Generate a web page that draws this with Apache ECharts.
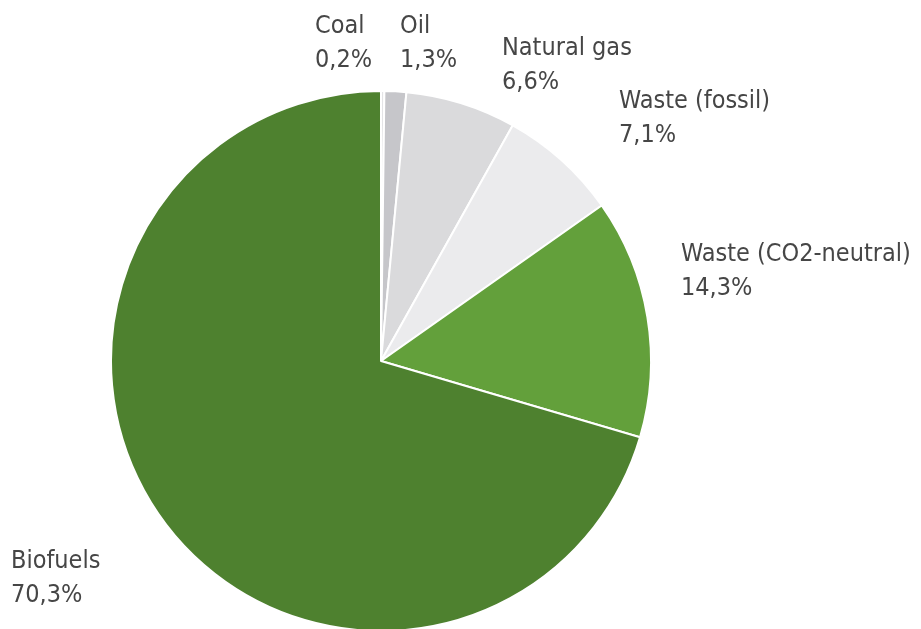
<!DOCTYPE html>
<html>
<head>
<meta charset="utf-8">
<script src="https://cdn.jsdelivr.net/npm/echarts@6/dist/echarts.min.js"></script>
<style>html,body{margin:0;padding:0;background:#fff;}#c{width:921px;height:629px;}</style>
</head>
<body>
<div id="c"></div>
<script>
var categories = ['Coal', 'Oil', 'Natural gas', 'Waste (fossil)', 'Waste (CO2-neutral)', 'Biofuels'];
var shares = [0.2, 1.3, 6.6, 7.1, 14.3, 70.3];
var colors = ['#e4e4e6', '#c6c6ca', '#dadadc', '#ebebed', '#63a03b', '#4e812f'];
var labelPos = [[315, 9], [400, 9], [502, 31], [619, 84], [681, 237], [11, 544]];

var chart = echarts.init(document.getElementById('c'));
chart.setOption({
  animation: false,
  series: [{
    type: 'pie',
    center: [381, 361],
    radius: [0, 270],
    startAngle: 90,
    clockwise: true,
    avoidLabelOverlap: false,
    data: categories.map(function (n, i) {
      return { name: n, value: shares[i], itemStyle: { color: colors[i] } };
    }),
    itemStyle: { borderColor: '#ffffff', borderWidth: 2 },
    label: {
      show: true,
      position: 'outside',
      color: '#464646',
      fontFamily: 'DejaVu Sans Condensed',
      fontSize: 25,
      lineHeight: 34,
      formatter: function (p) {
        return p.name + '\n' + p.value.toFixed(1).replace('.', ',') + '%';
      }
    },
    labelLine: { show: false },
    labelLayout: function (params) {
      var pos = labelPos[params.dataIndex];
      return { x: pos[0], y: pos[1], align: 'left', verticalAlign: 'top' };
    }
  }]
});
</script>
</body>
</html>
